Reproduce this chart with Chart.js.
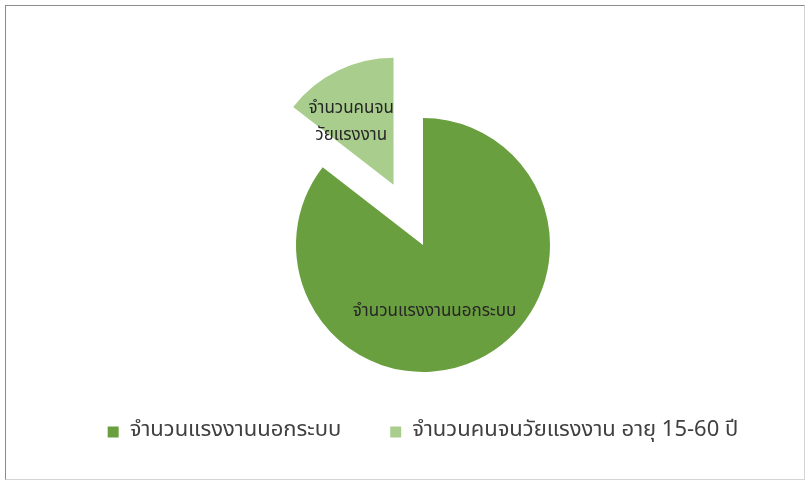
<!DOCTYPE html>
<html>
<head>
<meta charset="utf-8">
<script src="https://cdn.jsdelivr.net/npm/chart.js@4.4.1/dist/chart.umd.min.js"></script>
<style>
  html, body { margin: 0; padding: 0; background: #ffffff; }
  #wrap { position: relative; width: 811px; height: 487px; }
  #frame {
    position: absolute; left: 5px; top: 5px; width: 798px; height: 473px;
    border-left: 1px solid #8c8c8c; border-top: 1px solid #8c8c8c;
    border-right: 1px solid #d4d4d4; border-bottom: 1px solid #d4d4d4;
    pointer-events: none;
  }
  canvas { position: absolute; left: 0; top: 0; }
</style>
</head>
<body>
<div id="wrap">
  <canvas id="pieChart" width="811" height="487"></canvas>
  <div id="frame"></div>
</div>
<script>
// Legend labels, labels written on the slices, values and colours
const categories = ['จำนวนแรงงานนอกระบบ', 'จำนวนคนจนวัยแรงงาน อายุ 15-60 ปี'];
const sliceLabels = [['จำนวนแรงงานนอกระบบ'], ['จำนวนคนจน', 'วัยแรงงาน']];
const values = [85.5, 14.5];
const colors = ['#6a9f3f', '#a8cd8c'];

const thaiFont = '"Noto Sans Thai", "Noto Sans", sans-serif';

// Pull a slice out of the pie along its middle angle
const explodePlugin = {
    id: 'explode',
    beforeDatasetsDraw(chart, args, opts) {
        const area = chart.chartArea;
        const cx = (area.left + area.right) / 2;
        const cy = (area.top + area.bottom) / 2;
        const meta = chart.getDatasetMeta(0);
        Object.keys(opts.distance || {}).forEach(i => {
            const arc = meta.data[i];
            if (!arc) return;
            const mid = (arc.startAngle + arc.endAngle) / 2;
            arc.x = cx + Math.cos(mid) * opts.distance[i];
            arc.y = cy + Math.sin(mid) * opts.distance[i];
        });
    }
};

// Write the short category names inside the slices
const sliceLabelPlugin = {
    id: 'sliceLabels',
    afterDatasetsDraw(chart, args, opts) {
        const ctx = chart.ctx;
        const meta = chart.getDatasetMeta(0);
        ctx.save();
        ctx.font = opts.size + 'px ' + thaiFont;
        ctx.fillStyle = opts.color;
        ctx.textAlign = 'center';
        ctx.textBaseline = 'middle';
        meta.data.forEach((arc, i) => {
            const place = opts.place[i];
            const mid = (arc.startAngle + arc.endAngle) / 2 + place[1] * Math.PI / 180;
            const r = arc.outerRadius * place[0];
            const x = arc.x + Math.cos(mid) * r;
            const y = arc.y + Math.sin(mid) * r;
            const lines = sliceLabels[i];
            lines.forEach((line, j) => {
                ctx.fillText(line, x, y + (j - (lines.length - 1) / 2) * opts.lineHeight);
            });
        });
        ctx.restore();
    }
};

const ctx = document.getElementById('pieChart').getContext('2d');
new Chart(ctx, {
    type: 'pie',
    data: {
        labels: categories,
        datasets: [{
            data: values,
            backgroundColor: colors,
            borderWidth: 0
        }]
    },
    options: {
        responsive: false,
        animation: false,
        events: [],
        layout: {
            padding: { top: 118, bottom: 34, left: 35, right: 0 }
        },
        plugins: {
            tooltip: { enabled: false },
            legend: {
                position: 'bottom',
                labels: {
                    boxWidth: 11,
                    boxHeight: 11,
                    padding: 49,
                    color: '#404040',
                    font: { family: thaiFont, size: 22 }
                }
            },
            explode: { distance: { 1: 67 } },
            sliceLabels: {
                size: 17,
                lineHeight: 27,
                color: '#262626',
                place: [[0.54, 16.4], [0.59, -8.3]]
            }
        }
    },
    plugins: [explodePlugin, sliceLabelPlugin]
});
</script>
</body>
</html>
